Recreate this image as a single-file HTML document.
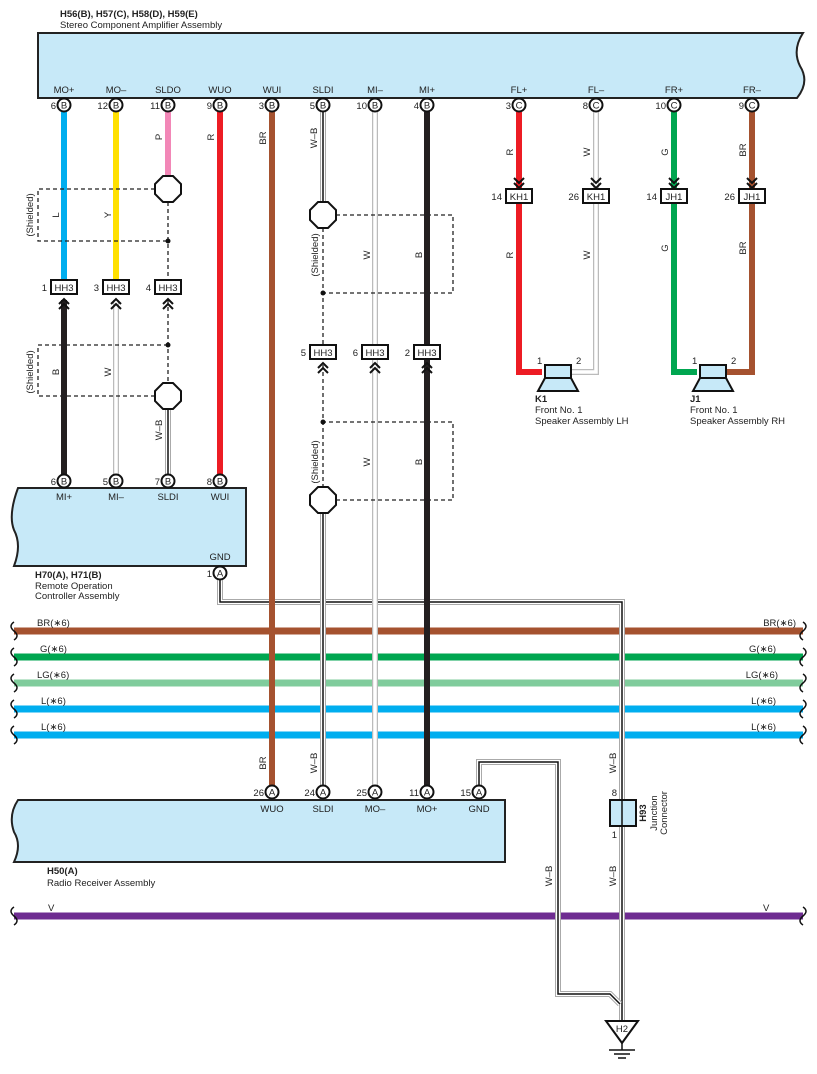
<!DOCTYPE html>
<html><head><meta charset="utf-8"><style>
html,body{margin:0;padding:0;background:#fff}
svg{display:block}
text{font-family:"Liberation Sans",sans-serif;font-size:9.5px;fill:#222}
.b{font-weight:bold}
.m{text-anchor:middle}
.e{text-anchor:end}
</style></head><body>
<svg width="817" height="1074" viewBox="0 0 817 1074" xmlns="http://www.w3.org/2000/svg">
<!-- titles -->
<text x="60" y="17" class="b">H56(B), H57(C), H58(D), H59(E)</text>
<text x="60" y="28">Stereo Component Amplifier Assembly</text>
<!-- top box -->
<path d="M38,33 H803 Q792,50 800,66 Q810,82 797,98 H38 Z" fill="#c7e9f8" stroke="#222" stroke-width="2"/>
<g class="m">
<text x="64" y="93" class="m">MO+</text><text x="116" y="93" class="m">MO–</text><text x="168" y="93" class="m">SLDO</text><text x="220" y="93" class="m">WUO</text>
<text x="272" y="93" class="m">WUI</text><text x="323" y="93" class="m">SLDI</text><text x="375" y="93" class="m">MI–</text><text x="427" y="93" class="m">MI+</text>
<text x="519" y="93" class="m">FL+</text><text x="596" y="93" class="m">FL–</text><text x="674" y="93" class="m">FR+</text><text x="752" y="93" class="m">FR–</text>
</g>

<!-- bus lines -->
<g stroke-width="7">
<line x1="14" y1="631" x2="803" y2="631" stroke="#a5522f"/>
<line x1="14" y1="657" x2="803" y2="657" stroke="#00a650"/>
<line x1="14" y1="683" x2="803" y2="683" stroke="#80cc9c"/>
<line x1="14" y1="709" x2="803" y2="709" stroke="#00aeef"/>
<line x1="14" y1="735" x2="803" y2="735" stroke="#00aeef"/>
<line x1="14" y1="916" x2="803" y2="916" stroke="#6e2c91"/>
</g>
<g fill="none" stroke="#111" stroke-width="1.5">
<path d="M14,622 q-6,4 0,9 q6,5 0,9"/><path d="M14,648 q-6,4 0,9 q6,5 0,9"/><path d="M14,674 q-6,4 0,9 q6,5 0,9"/><path d="M14,700 q-6,4 0,9 q6,5 0,9"/><path d="M14,726 q-6,4 0,9 q6,5 0,9"/>
<path d="M803,622 q6,4 0,9 q-6,5 0,9"/><path d="M803,648 q6,4 0,9 q-6,5 0,9"/><path d="M803,674 q6,4 0,9 q-6,5 0,9"/><path d="M803,700 q6,4 0,9 q-6,5 0,9"/><path d="M803,726 q6,4 0,9 q-6,5 0,9"/>
<path d="M14,907 q-6,4 0,9 q6,5 0,9"/><path d="M803,907 q6,4 0,9 q-6,5 0,9"/>
</g>
<text x="37" y="626">BR(∗6)</text><text x="40" y="652">G(∗6)</text><text x="37" y="678">LG(∗6)</text><text x="41" y="704">L(∗6)</text><text x="41" y="730">L(∗6)</text>
<text x="796" y="626" class="e">BR(∗6)</text><text x="776" y="652" class="e">G(∗6)</text><text x="778" y="678" class="e">LG(∗6)</text><text x="776" y="704" class="e">L(∗6)</text><text x="776" y="730" class="e">L(∗6)</text>
<text x="48" y="911">V</text><text x="763" y="911">V</text>

<!-- ground wires (W-B) -->
<g fill="none" stroke-linejoin="miter">
<path d="M220,573 V602 H622 V1022" stroke="#aaa" stroke-width="6"/>
<path d="M220,573 V602 H622 V1022" stroke="#fff" stroke-width="4"/>
<path d="M220,573 V602 H622 V1022" stroke="#111" stroke-width="1.5"/>
<path d="M479,792 V762 H558 V994 H610 L620,1004" stroke="#aaa" stroke-width="6"/>
<path d="M479,792 V762 H558 V994 H610 L620,1004" stroke="#fff" stroke-width="4"/>
<path d="M479,792 V762 H558 V994 H610 L620,1004" stroke="#111" stroke-width="1.5"/>
</g>

<!-- colored wires -->
<g fill="none" stroke-width="6">
<line x1="64" y1="112" x2="64" y2="281" stroke="#00aeef"/>
<line x1="64" y1="300" x2="64" y2="474" stroke="#231f20"/>
<line x1="116" y1="112" x2="116" y2="281" stroke="#ffe000"/>
<line x1="168" y1="112" x2="168" y2="177" stroke="#f287b7"/>
<line x1="220" y1="112" x2="220" y2="474" stroke="#ed1c24"/>
<line x1="272" y1="112" x2="272" y2="785" stroke="#a5522f"/>
<line x1="427" y1="112" x2="427" y2="785" stroke="#231f20"/>
<polyline points="519,112 519,372 542,372" stroke="#ed1c24"/>
<polyline points="674,112 674,372 697,372" stroke="#00a650"/>
<polyline points="752,112 752,372 723,372" stroke="#a5522f"/>
</g>
<!-- white wires -->
<g fill="none">
<g stroke="#bbb" stroke-width="6"><line x1="116" y1="300" x2="116" y2="474"/><line x1="375" y1="112" x2="375" y2="785"/><polyline points="596,112 596,372 572,372"/></g>
<g stroke="#fff" stroke-width="3.5"><line x1="116" y1="300" x2="116" y2="474"/><line x1="375" y1="112" x2="375" y2="785"/><polyline points="596,112 596,372 572,372"/></g>
</g>
<!-- W-B wires -->
<g fill="none">
<g stroke="#aaa" stroke-width="6"><line x1="168" y1="409" x2="168" y2="474"/><line x1="323" y1="112" x2="323" y2="202"/><line x1="323" y1="513" x2="323" y2="785"/></g>
<g stroke="#fff" stroke-width="4"><line x1="168" y1="409" x2="168" y2="474"/><line x1="323" y1="112" x2="323" y2="202"/><line x1="323" y1="513" x2="323" y2="785"/></g>
<g stroke="#111" stroke-width="1.5"><line x1="168" y1="409" x2="168" y2="474"/><line x1="323" y1="112" x2="323" y2="202"/><line x1="323" y1="513" x2="323" y2="785"/></g>
</g>

<!-- shields (dashed) -->
<g fill="none" stroke="#222" stroke-width="1.3" stroke-dasharray="4,3">
<path d="M155,189 H38 V241 H168"/><line x1="168" y1="202" x2="168" y2="281"/>
<path d="M155,396 H38 V345 H168"/><line x1="168" y1="300" x2="168" y2="383"/>
<path d="M336,215 H453 V293 H323"/><line x1="323" y1="228" x2="323" y2="345"/>
<path d="M336,500 H453 V422 H323"/><line x1="323" y1="365" x2="323" y2="487"/>
</g>
<g fill="#111"><circle cx="168" cy="241" r="2.5"/><circle cx="168" cy="345" r="2.5"/><circle cx="323" cy="293" r="2.5"/><circle cx="323" cy="422" r="2.5"/></g>
<!-- octagons -->
<g fill="#fff" stroke="#111" stroke-width="2">
<polygon points="163,176 173,176 181,184 181,194 173,202 163,202 155,194 155,184"/>
<polygon points="163,383 173,383 181,391 181,401 173,409 163,409 155,401 155,391"/>
<polygon points="318,202 328,202 336,210 336,220 328,228 318,228 310,220 310,210"/>
<polygon points="318,487 328,487 336,495 336,505 328,513 318,513 310,505 310,495"/>
</g>
<g transform="translate(33,215) rotate(-90)"><text class="m" x="0" y="0">(Shielded)</text></g>
<g transform="translate(33,372) rotate(-90)"><text class="m" x="0" y="0">(Shielded)</text></g>
<g transform="translate(318,255) rotate(-90)"><text class="m" x="0" y="0">(Shielded)</text></g>
<g transform="translate(318,462) rotate(-90)"><text class="m" x="0" y="0">(Shielded)</text></g>

<!-- wire color labels -->
<g>
<text transform="translate(162,137) rotate(-90)" class="m">P</text>
<text transform="translate(214,137) rotate(-90)" class="m">R</text>
<text transform="translate(266,138) rotate(-90)" class="m">BR</text>
<text transform="translate(317,138) rotate(-90)" class="m">W–B</text>
<text transform="translate(59,215) rotate(-90)" class="m">L</text>
<text transform="translate(111,215) rotate(-90)" class="m">Y</text>
<text transform="translate(370,255) rotate(-90)" class="m">W</text>
<text transform="translate(422,255) rotate(-90)" class="m">B</text>
<text transform="translate(59,372) rotate(-90)" class="m">B</text>
<text transform="translate(111,372) rotate(-90)" class="m">W</text>
<text transform="translate(162,430) rotate(-90)" class="m">W–B</text>
<text transform="translate(370,462) rotate(-90)" class="m">W</text>
<text transform="translate(422,462) rotate(-90)" class="m">B</text>
<text transform="translate(513,152) rotate(-90)" class="m">R</text>
<text transform="translate(513,255) rotate(-90)" class="m">R</text>
<text transform="translate(590,152) rotate(-90)" class="m">W</text>
<text transform="translate(590,255) rotate(-90)" class="m">W</text>
<text transform="translate(668,152) rotate(-90)" class="m">G</text>
<text transform="translate(668,248) rotate(-90)" class="m">G</text>
<text transform="translate(746,150) rotate(-90)" class="m">BR</text>
<text transform="translate(746,248) rotate(-90)" class="m">BR</text>
<text transform="translate(266,763) rotate(-90)" class="m">BR</text>
<text transform="translate(317,763) rotate(-90)" class="m">W–B</text>
<text transform="translate(552,876) rotate(-90)" class="m">W–B</text>
<text transform="translate(616,763) rotate(-90)" class="m">W–B</text>
<text transform="translate(616,876) rotate(-90)" class="m">W–B</text>
</g>

<!-- chevrons -->
<g fill="none" stroke="#111" stroke-width="2">
<path d="M59,304 l5,-5 l5,5 M59,309 l5,-5 l5,5"/>
<path d="M111,304 l5,-5 l5,5 M111,309 l5,-5 l5,5"/>
<path d="M163,304 l5,-5 l5,5 M163,309 l5,-5 l5,5"/>
<path d="M318,368 l5,-5 l5,5 M318,373 l5,-5 l5,5"/>
<path d="M370,368 l5,-5 l5,5 M370,373 l5,-5 l5,5"/>
<path d="M422,368 l5,-5 l5,5 M422,373 l5,-5 l5,5"/>
<path d="M514,178 l5,5 l5,-5 M514,183 l5,5 l5,-5"/>
<path d="M591,178 l5,5 l5,-5 M591,183 l5,5 l5,-5"/>
<path d="M669,178 l5,5 l5,-5 M669,183 l5,5 l5,-5"/>
<path d="M747,178 l5,5 l5,-5 M747,183 l5,5 l5,-5"/>
</g>
<!-- connector boxes -->
<g fill="#fff" stroke="#111" stroke-width="2">
<rect x="51" y="280" width="26" height="14"/><rect x="103" y="280" width="26" height="14"/><rect x="155" y="280" width="26" height="14"/>
<rect x="310" y="345" width="26" height="14"/><rect x="362" y="345" width="26" height="14"/><rect x="414" y="345" width="26" height="14"/>
<rect x="506" y="189" width="26" height="14"/><rect x="583" y="189" width="26" height="14"/><rect x="661" y="189" width="26" height="14"/><rect x="739" y="189" width="26" height="14"/>
</g>
<g>
<text x="64" y="291" class="m">HH3</text><text x="116" y="291" class="m">HH3</text><text x="168" y="291" class="m">HH3</text>
<text x="47" y="291" class="e">1</text><text x="99" y="291" class="e">3</text><text x="151" y="291" class="e">4</text>
<text x="323" y="356" class="m">HH3</text><text x="375" y="356" class="m">HH3</text><text x="427" y="356" class="m">HH3</text>
<text x="306" y="356" class="e">5</text><text x="358" y="356" class="e">6</text><text x="410" y="356" class="e">2</text>
<text x="519" y="200" class="m">KH1</text><text x="596" y="200" class="m">KH1</text><text x="674" y="200" class="m">JH1</text><text x="752" y="200" class="m">JH1</text>
<text x="502" y="200" class="e">14</text><text x="579" y="200" class="e">26</text><text x="657" y="200" class="e">14</text><text x="735" y="200" class="e">26</text>
</g>

<!-- speakers -->
<g fill="#c7e9f8" stroke="#111" stroke-width="2">
<rect x="545" y="365" width="26" height="13"/><polygon points="545,378 571,378 578,391 538,391"/>
<rect x="700" y="365" width="26" height="13"/><polygon points="700,378 726,378 733,391 693,391"/>
</g>
<text x="537" y="364">1</text><text x="576" y="364">2</text><text x="692" y="364">1</text><text x="731" y="364">2</text>
<text x="535" y="402" class="b">K1</text><text x="535" y="413">Front No.  1</text><text x="535" y="424">Speaker Assembly LH</text>
<text x="690" y="402" class="b">J1</text><text x="690" y="413">Front No.  1</text><text x="690" y="424">Speaker Assembly RH</text>

<!-- remote box -->
<path d="M246,488 V566 H14 Q22,545 14,530 Q8,515 18,488 Z" fill="#c7e9f8" stroke="#222" stroke-width="2"/>
<text x="64" y="500" class="m">MI+</text><text x="116" y="500" class="m">MI–</text><text x="168" y="500" class="m">SLDI</text><text x="220" y="500" class="m">WUI</text>
<text x="220" y="560" class="m">GND</text>
<text x="35" y="578" class="b">H70(A), H71(B)</text><text x="35" y="589">Remote Operation</text><text x="35" y="599">Controller Assembly</text>

<!-- radio box -->
<path d="M505,800 V862 H14 Q22,845 14,832 Q8,815 18,800 Z" fill="#c7e9f8" stroke="#222" stroke-width="2"/>
<text x="272" y="812" class="m">WUO</text><text x="323" y="812" class="m">SLDI</text><text x="375" y="812" class="m">MO–</text><text x="427" y="812" class="m">MO+</text><text x="479" y="812" class="m">GND</text>
<text x="47" y="874" class="b">H50(A)</text><text x="47" y="886">Radio Receiver Assembly</text>

<!-- junction H93 -->
<rect x="610" y="800" width="26" height="26" fill="#c7e9f8" stroke="#111" stroke-width="2"/>
<line x1="622" y1="800" x2="622" y2="826" stroke="#111" stroke-width="1.5"/>
<text x="617" y="796" class="e">8</text><text x="617" y="838" class="e">1</text>
<text transform="translate(646,813) rotate(-90)" class="m b">H93</text>
<text transform="translate(657,813) rotate(-90)" class="m">Junction</text>
<text transform="translate(667,813) rotate(-90)" class="m">Connector</text>

<!-- ground H2 -->
<polygon points="606,1021 638,1021 622,1043" fill="#fff" stroke="#111" stroke-width="2"/>
<text x="622" y="1032" class="m">H2</text>
<g stroke="#111" stroke-width="1.5"><line x1="622" y1="1043" x2="622" y2="1050"/><line x1="609" y1="1050" x2="635" y2="1050"/><line x1="614" y1="1054" x2="630" y2="1054"/><line x1="618" y1="1058" x2="626" y2="1058"/></g>

<!-- pins -->
<g fill="#fff" stroke="#111" stroke-width="2">
<circle cx="64" cy="105" r="6.5"/><circle cx="116" cy="105" r="6.5"/><circle cx="168" cy="105" r="6.5"/><circle cx="220" cy="105" r="6.5"/>
<circle cx="272" cy="105" r="6.5"/><circle cx="323" cy="105" r="6.5"/><circle cx="375" cy="105" r="6.5"/><circle cx="427" cy="105" r="6.5"/>
<circle cx="519" cy="105" r="6.5"/><circle cx="596" cy="105" r="6.5"/><circle cx="674" cy="105" r="6.5"/><circle cx="752" cy="105" r="6.5"/>
<circle cx="64" cy="481" r="6.5"/><circle cx="116" cy="481" r="6.5"/><circle cx="168" cy="481" r="6.5"/><circle cx="220" cy="481" r="6.5"/>
<circle cx="220" cy="573" r="6.5"/>
<circle cx="272" cy="792" r="6.5"/><circle cx="323" cy="792" r="6.5"/><circle cx="375" cy="792" r="6.5"/><circle cx="427" cy="792" r="6.5"/><circle cx="479" cy="792" r="6.5"/>
</g>
<g style="font-size:9px">
<text x="64" y="108.5" class="m">B</text><text x="116" y="108.5" class="m">B</text><text x="168" y="108.5" class="m">B</text><text x="220" y="108.5" class="m">B</text>
<text x="272" y="108.5" class="m">B</text><text x="323" y="108.5" class="m">B</text><text x="375" y="108.5" class="m">B</text><text x="427" y="108.5" class="m">B</text>
<text x="519" y="108.5" class="m">C</text><text x="596" y="108.5" class="m">C</text><text x="674" y="108.5" class="m">C</text><text x="752" y="108.5" class="m">C</text>
<text x="64" y="484.5" class="m">B</text><text x="116" y="484.5" class="m">B</text><text x="168" y="484.5" class="m">B</text><text x="220" y="484.5" class="m">B</text>
<text x="220" y="576.5" class="m">A</text>
<text x="272" y="795.5" class="m">A</text><text x="323" y="795.5" class="m">A</text><text x="375" y="795.5" class="m">A</text><text x="427" y="795.5" class="m">A</text><text x="479" y="795.5" class="m">A</text>
</g>
<g>
<text x="56" y="109" class="e">6</text><text x="108" y="109" class="e">12</text><text x="160" y="109" class="e">11</text><text x="212" y="109" class="e">9</text>
<text x="264" y="109" class="e">3</text><text x="315" y="109" class="e">5</text><text x="367" y="109" class="e">10</text><text x="419" y="109" class="e">4</text>
<text x="511" y="109" class="e">3</text><text x="588" y="109" class="e">8</text><text x="666" y="109" class="e">10</text><text x="744" y="109" class="e">9</text>
<text x="56" y="485" class="e">6</text><text x="108" y="485" class="e">5</text><text x="160" y="485" class="e">7</text><text x="212" y="485" class="e">8</text>
<text x="212" y="577" class="e">1</text>
<text x="264" y="796" class="e">26</text><text x="315" y="796" class="e">24</text><text x="367" y="796" class="e">25</text><text x="419" y="796" class="e">11</text><text x="471" y="796" class="e">15</text>
</g>
</svg>
</body></html>
